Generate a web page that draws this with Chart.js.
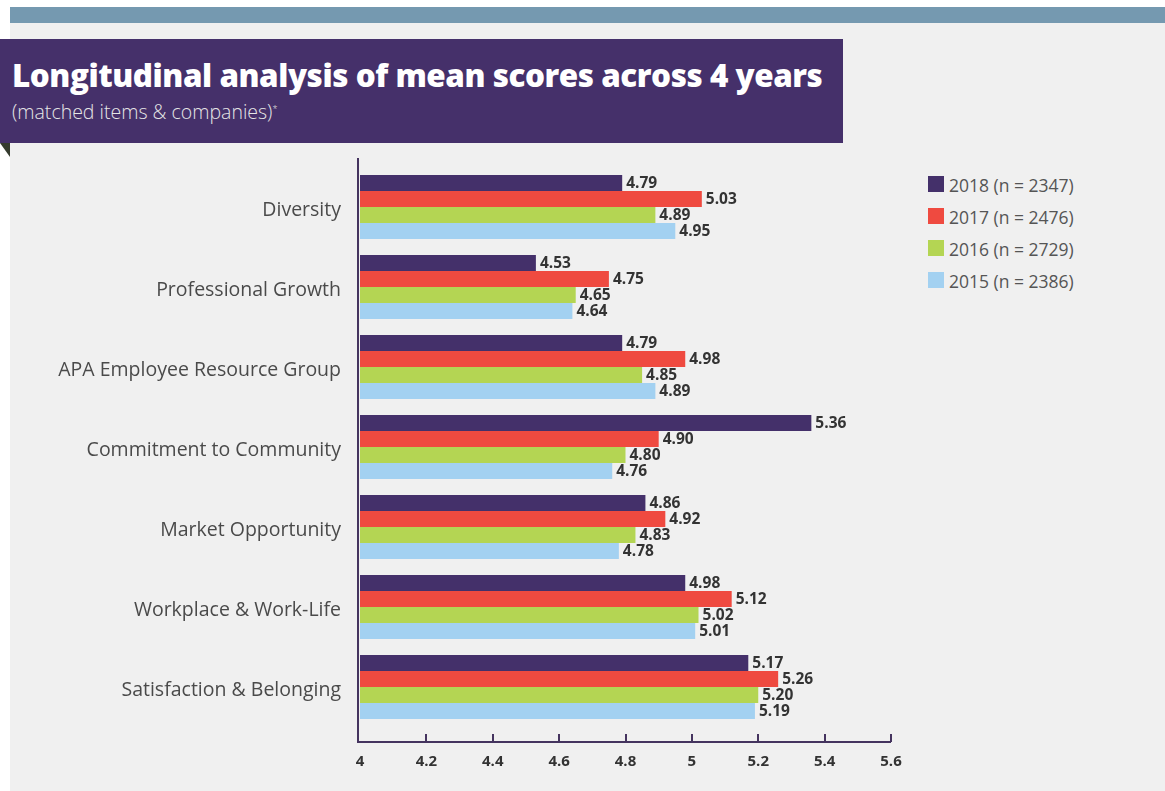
<!DOCTYPE html>
<html>
<head>
<meta charset="utf-8">
<script src="https://cdn.jsdelivr.net/npm/chart.js@4.4.1/dist/chart.umd.min.js"></script>
<style>
  html, body { margin: 0; padding: 0; background: #fff; }
  body { width: 1165px; height: 791px; position: relative; overflow: hidden; font-family: "Open Sans", sans-serif; }
  .strip { position: absolute; left: 10px; top: 7px; width: 1155px; height: 16px; background: #7599b0; }
  .panel { position: absolute; left: 10px; top: 23px; width: 1155px; height: 768px; background: #f0f0f0; }
  .banner { position: absolute; left: 0; top: 39px; width: 843px; height: 104px; background: #45306a; }
  .fold { position: absolute; left: 0; top: 143px; width: 10px; height: 14px; background: #353b2e;
          clip-path: polygon(0 0, 100% 0, 100% 100%); }
  .title { position: absolute; left: 12px; top: 53px; color: #fff; font-family: "Open Sans", sans-serif;
           font-weight: 800; font-size: 31.4px; letter-spacing: -0.45px; white-space: nowrap; }
  .sub { position: absolute; left: 12px; top: 98px; color: #e6e6e6; font-family: "Open Sans", sans-serif;
         font-weight: 300; font-size: 19.5px; white-space: nowrap; }
  .sub sup { font-size: 9px; }
  #legend { position: absolute; left: 928px; top: 173px; }
  .li { height: 32px; display: flex; align-items: flex-start; color: #555; font-size: 17.5px; }
  .sw { width: 16px; height: 16px; margin-right: 5px; margin-top: 3px; }
  #wrap { position: absolute; left: 0; top: 0; width: 1165px; height: 791px; }
</style>
</head>
<body>
<div class="strip"></div>
<div class="panel"></div>
<div class="banner"></div>
<div class="fold"></div>
<div class="title">Longitudinal analysis of mean scores across 4 years</div>
<div class="sub">(matched items &amp; companies)<sup>*</sup></div>
<div id="legend"></div>
<div id="wrap"><canvas id="chart"></canvas></div>
<script>
const categories = [
  "Diversity",
  "Professional Growth",
  "APA Employee Resource Group",
  "Commitment to Community",
  "Market Opportunity",
  "Workplace & Work-Life",
  "Satisfaction & Belonging",
];
const seriesNames = ["2018 (n = 2347)", "2017 (n = 2476)", "2016 (n = 2729)", "2015 (n = 2386)"];
const v2018 = [4.79, 4.53, 4.79, 5.36, 4.86, 4.98, 5.17];
const v2017 = [5.03, 4.75, 4.98, 4.90, 4.92, 5.12, 5.26];
const v2016 = [4.89, 4.65, 4.85, 4.80, 4.83, 5.02, 5.20];
const v2015 = [4.95, 4.64, 4.89, 4.76, 4.78, 5.01, 5.19];
const xTicks = [4, 4.2, 4.4, 4.6, 4.8, 5, 5.2, 5.4, 5.6];

const colors = ["#44306a", "#ef4a40", "#b4d553", "#a3d1f1"];
const axisColor = "#45345f";

// html legend
const legendEl = document.getElementById("legend");
seriesNames.forEach((name, i) => {
  const row = document.createElement("div");
  row.className = "li";
  row.innerHTML = `<div class="sw" style="background:${colors[i]}"></div><span>${name}</span>`;
  legendEl.appendChild(row);
});

// value labels at the end of each bar
const valueLabels = {
  id: "valueLabels",
  afterDatasetsDraw(chart) {
    const ctx = chart.ctx;
    ctx.save();
    ctx.font = 'bold 15.5px "Open Sans", sans-serif';
    ctx.fillStyle = "#333";
    ctx.textAlign = "left";
    ctx.textBaseline = "middle";
    chart.data.datasets.forEach((ds, di) => {
      chart.getDatasetMeta(di).data.forEach((bar, i) => {
        ctx.fillText(ds.data[i].toFixed(2), bar.x + 4, bar.y + 1);
      });
    });
    ctx.restore();
  },
};

// axis lines drawn a bit below the category area, like the original
const axisLines = {
  id: "axisLines",
  afterDraw(chart) {
    const ctx = chart.ctx;
    const x = chart.scales.x;
    const area = chart.chartArea;
    const yAxis = area.bottom + 15;
    const x0 = x.getPixelForValue(4) - 2;
    const x1 = x.getPixelForValue(5.6);
    ctx.save();
    ctx.strokeStyle = axisColor;
    ctx.lineWidth = 2;
    ctx.beginPath();
    ctx.moveTo(x0, area.top - 9);
    ctx.lineTo(x0, yAxis);
    ctx.lineTo(x1, yAxis);
    ctx.stroke();
    xTicks.forEach((t) => {
      const px = t === 4 ? x0 : Math.round(x.getPixelForValue(t));
      ctx.beginPath();
      ctx.moveTo(px, yAxis);
      ctx.lineTo(px, yAxis - 8);
      ctx.stroke();
    });
    ctx.restore();
  },
};

new Chart(document.getElementById("chart"), {
  type: "bar",
  data: {
    labels: categories,
    datasets: [v2018, v2017, v2016, v2015].map((d, i) => ({
      label: seriesNames[i],
      data: d,
      backgroundColor: colors[i],
      categoryPercentage: 0.8,
      barPercentage: 1.0,
      borderWidth: 0,
    })),
  },
  options: {
    indexAxis: "y",
    responsive: true,
    maintainAspectRatio: false,
    animation: false,
    layout: { padding: { top: 167, right: 274, left: 0, bottom: 0 } },
    plugins: { legend: { display: false }, tooltip: { enabled: false } },
    scales: {
      x: {
        min: 4,
        max: 5.6,
        afterBuildTicks(scale) {
          scale.ticks = xTicks.map((v) => ({ value: v }));
        },
        afterFit(scale) { scale.height = 64; },
        grid: { display: false, drawTicks: false },
        border: { display: false },
        ticks: {
          padding: 26,
          color: "#333",
          font: { family: '"Open Sans", sans-serif', weight: "bold", size: 15 },
          callback: (v) => String(v),
        },
      },
      y: {
        afterFit(scale) { scale.width = 360; },
        grid: { display: false, drawTicks: false },
        border: { display: false },
        ticks: {
          padding: 19,
          labelOffset: 3,
          color: "#4a4a4a",
          font: { family: '"Open Sans", sans-serif', weight: "normal", size: 19.5 },
        },
      },
    },
  },
  plugins: [valueLabels, axisLines],
});
</script>
</body>
</html>
